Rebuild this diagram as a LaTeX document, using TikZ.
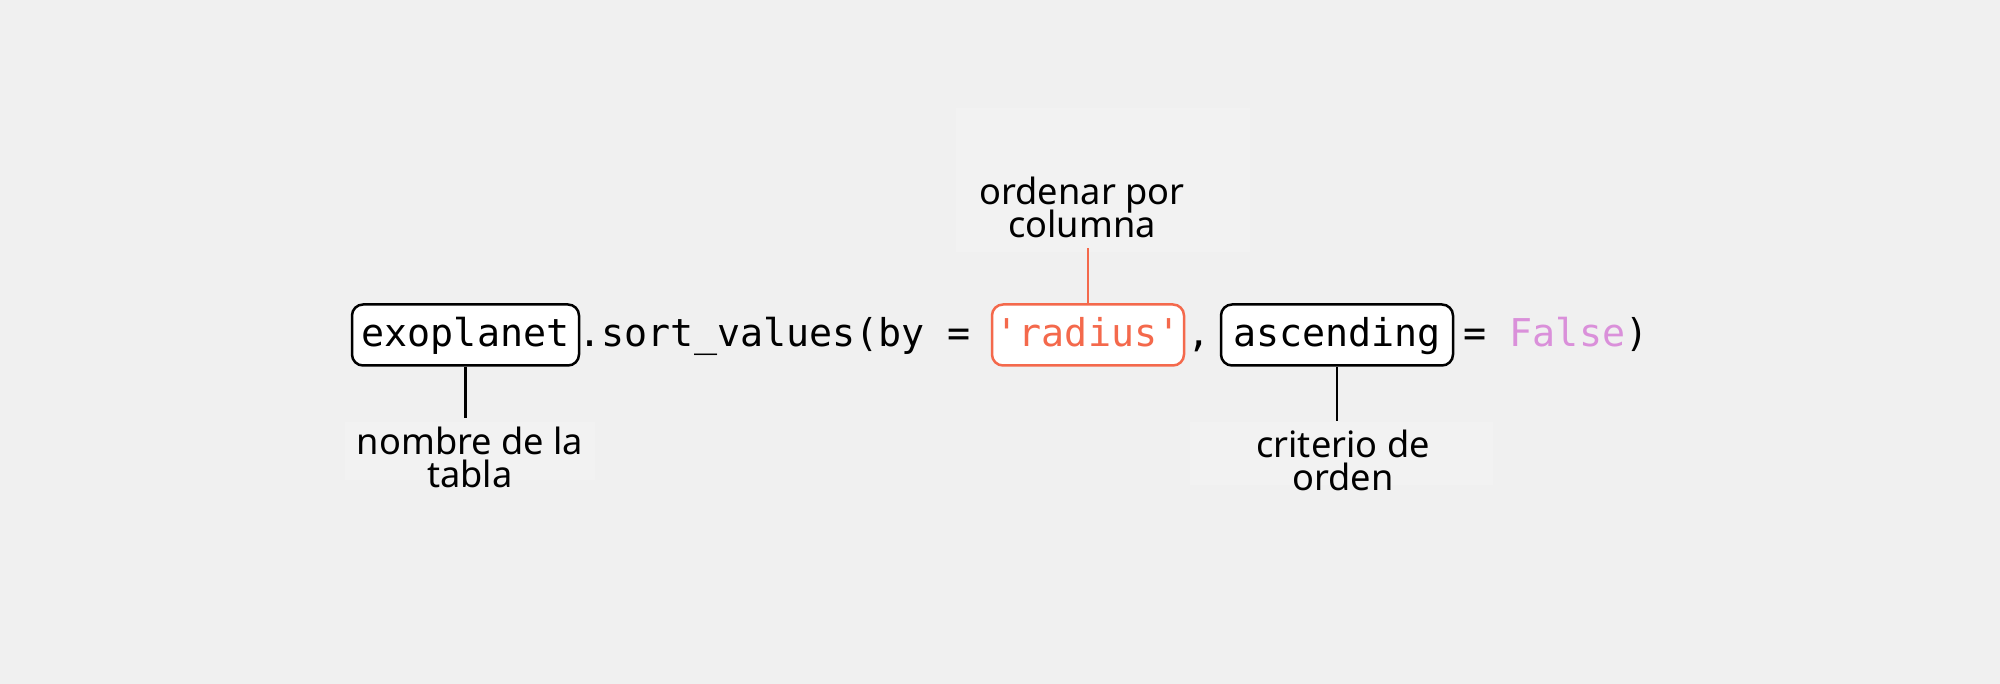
\documentclass[tikz,border=0pt]{standalone}
\usepackage{fontspec}
\setmainfont{Noto Sans}
\setmonofont{DejaVu Sans Mono}
\usepackage{tikz}
\usetikzlibrary{calc}
\definecolor{bgcol}{HTML}{F0F0F0}
\definecolor{labelcol}{HTML}{F2F2F2}
\definecolor{argred}{HTML}{F4694C}
\definecolor{kwpurple}{HTML}{DA90DA}
\tikzset{code/.style={
  inner sep=0pt,
  anchor=base,
  font=\fontsize{10.9pt}{13pt}\ttfamily,
  text=black
  }
}
\tikzset{code box/.style={
  code,
  draw,
  fill=white,
  rounded corners=0.11cm,
  line width=0.025cm,
  text height=0.33cm,
  text depth=0.09cm,
  inner ysep=0.095cm
  }
}
\tikzset{note/.style={
  align=center,
  anchor=base,
  inner sep=0.09cm,
  font=\fontsize{10.3pt}{9.4pt}\selectfont,
  execute at begin node={\lineskiplimit=-10pt\relax}
  }
}
\tikzset{my line/.style={
  black,
  line width=0.025cm
  }
}
\tikzset{my red line/.style={
  argred,
  line width=0.025cm
  }
}

\begin{document}
\begin{tikzpicture}
    \fill[bgcol] (0,0) rectangle (20,6.84);
    \useasboundingbox (0,0) rectangle (20,6.84);

    \foreach \a/\b in {{3.45,2.04}/{5.95,2.62},{11.90,1.99}/{14.93,2.62},{9.56,4.32}/{12.50,5.76}}
        \fill[labelcol] (\a) rectangle (\b);

    \node[code box,minimum width=2.27cm] (tabla) at (4.655,3.37) {exoplanet};
    \node[code,anchor=base west] (metodo) at (5.78,3.37) {.sort\_values(by =};
    \node[code box,draw=argred,text=argred,minimum width=1.92cm] (columna) at (10.88,3.37) {\textquotesingle radius\textquotesingle};
    \node[code,anchor=base west] (coma) at (11.87,3.37) {,};
    \node[code box,minimum width=2.32cm] (orden) at (13.37,3.37) {ascending};
    \node[code,anchor=base west] (valor) at (14.63,3.37) {= \textcolor{kwpurple}{False})};

    \node[note] (L1) at (4.70,1.96) {nombre de la\\tabla};
    \node[note] (L2) at (10.82,4.46) {ordenar por\\columna};
    \node[note] (L3) at (13.43,1.93) {criterio de\\orden};

    \draw[my line] (tabla.south) -- (tabla.south |- L1.north);
    \draw[my red line] (columna.north) -- (columna.north |- L2.south);
    \draw[my line] (orden.south) -- (orden.south |- L3.north);
\end{tikzpicture}
\end{document}
